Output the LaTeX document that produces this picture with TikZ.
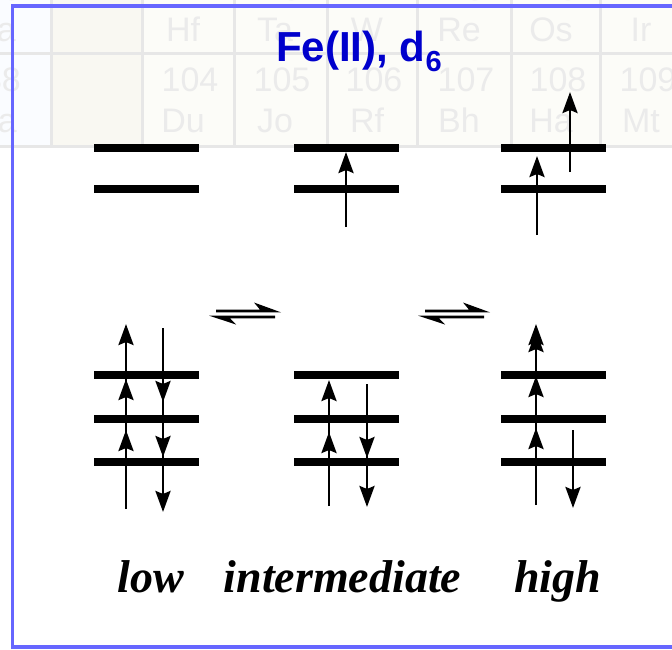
\documentclass[tikz,border=0pt]{standalone}
\usepackage{fontspec}
\setmainfont{Liberation Serif}
\setsansfont{Liberation Sans}
\usetikzlibrary{arrows.meta}
\definecolor{framecol}{RGB}{102,102,255}
\definecolor{titlecol}{RGB}{0,0,204}
\definecolor{tablebg}{RGB}{252,252,248}
\definecolor{beigebg}{RGB}{249,248,242}
\definecolor{bluebg}{RGB}{250,252,255}
\definecolor{gridcol}{RGB}{231,231,231}
\definecolor{tabtext}{RGB}{235,235,235}
\tikzset{
  orbital/.style={line width=8pt},
  spin/.style={line width=2.8pt,-{Stealth[length=21pt,width=15pt,inset=3pt]}},
  gridline/.style={gridcol,line width=3pt},
  tabcell/.style={text=tabtext,font=\sffamily\fontsize{34}{34}\selectfont,anchor=base,inner sep=0pt},
  spinlabel/.style={font=\rmfamily\bfseries\itshape\fontsize{46}{46}\selectfont,anchor=base,inner sep=0pt},
  equil/.pic={
    \fill (0,-1.35) -- (44,-1.35) -- (38,-8.5) -- (65,1.35) -- (0,1.35) -- cycle;
    \fill (59,4.65) -- (-7,4.65) -- (20,13.5) -- (14,7.35) -- (59,7.35) -- cycle;
  }
}
\begin{document}
\begin{tikzpicture}[x=1pt,y=-1pt]
\useasboundingbox (0,0) rectangle (672,650);
\begin{scope}
\clip (0,0) rectangle (672,650);
\fill[white] (0,0) rectangle (672,650);
% faint periodic table in the background
\fill[tablebg] (0,-50) rectangle (672,147);
\fill[bluebg] (0,-50) rectangle (51,147);
\fill[beigebg] (51,-50) rectangle (142,147);
\foreach \gx in {51,142,234,327,417,511,600}
  \draw[gridline] (\gx,-50) -- (\gx,148.5);
\foreach \gy in {54,147}
  \draw[gridline] (0,\gy) -- (672,\gy);
\foreach \cx/\na/\sa/\nb/\sb in {0/56/Ba/88/Ra,188/72/Hf/104/Du,280/73/Ta/105/Jo,372/74/W/106/Rf,464/75/Re/107/Bh,556/76/Os/108/Ha,646/77/Ir/109/Mt}{
  \node[tabcell] (na\cx) at (\cx+2,1) {\na};
  \node[tabcell] (sa\cx) at (\cx-5,42) {\sa};
  \node[tabcell] (nb\cx) at (\cx+2,92) {\nb};
  \node[tabcell] (sb\cx) at (\cx-5,132) {\sb};
}
% frame
\draw[framecol,line width=3.5pt] (12.5,6) rectangle (700,647);
\end{scope}
% title
\node[anchor=base,inner sep=0pt,text=titlecol,font=\sffamily\bfseries\fontsize{42}{42}\selectfont] (title) at (359,62) {Fe(II), d\raisebox{-10pt}{\fontsize{29}{29}\selectfont 6}};
% upper levels (e_g)
\foreach \lx in {94,294,501}{
  \draw[orbital] (\lx,148) -- (\lx+105,148);
  \draw[orbital] (\lx,189) -- (\lx+105,189);
}
% lower levels (t_2g)
\foreach \lx in {94,294,501}{
  \draw[orbital] (\lx,375) -- (\lx+105,375);
  \draw[orbital] (\lx,419) -- (\lx+105,419);
  \draw[orbital] (\lx,462) -- (\lx+105,462);
}
% upper spins
\draw[spin] (346,227) -- (346,152);
\draw[spin] (537,235) -- (537,156);
\draw[spin] (570,172) -- (570,92);
% low spin
\draw[spin] (126,509) -- (126,430);
\draw[spin] (126,458) -- (126,379);
\draw[spin] (126,403) -- (126,324);
\draw[spin] (163,328) -- (163,402);
\draw[spin] (163,377) -- (163,457);
\draw[spin] (163,432) -- (163,512);
% intermediate spin
\draw[spin] (329,506) -- (329,432);
\draw[spin] (329,455) -- (329,380);
\draw[spin] (367,384) -- (367,458);
\draw[spin] (367,433) -- (367,507);
% high spin
\draw[spin] (536,505) -- (536,428);
\draw[spin] (536,452) -- (536,376);
\draw[spin] (536,410) -- (536,331);
\draw[spin] (536,400) -- (536,324);
\draw[spin] (573,430) -- (573,508);
% equilibria
\pic at (216,311) {equil};
\pic at (425,311) {equil};
% labels
\node[spinlabel] (low) at (151,592) {low};
\node[spinlabel] (inter) at (342.5,592) {intermediate};
\node[spinlabel] (high) at (557.5,592) {high};
\end{tikzpicture}
\end{document}
